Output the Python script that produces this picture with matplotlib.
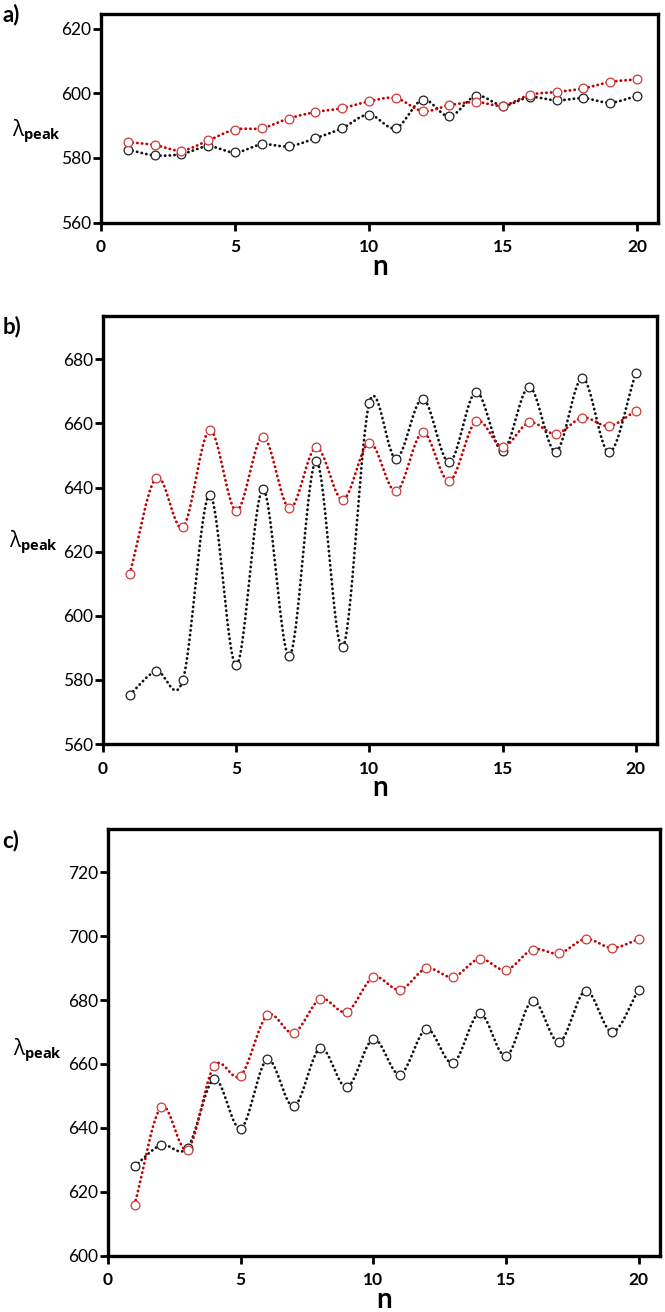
import numpy as np
import matplotlib
matplotlib.use("Agg")
import matplotlib.pyplot as plt

plt.rcParams['font.family'] = ['Lato', 'DejaVu Sans']
plt.rcParams['mathtext.fontset'] = 'custom'
plt.rcParams['mathtext.rm'] = 'Open Sans'
plt.rcParams['mathtext.it'] = 'Open Sans'
plt.rcParams['mathtext.bf'] = 'Open Sans:bold'

n = list(range(1, 21))

# panel a
a_black = [582.6, 580.8, 581.2, 583.6, 581.7, 584.2, 583.6, 586.1, 589.2, 593.4,
           589.2, 598.0, 592.9, 599.2, 596.2, 598.8, 597.8, 598.5, 597.1, 599.2]
a_red = [584.9, 584.0, 582.3, 585.4, 588.8, 589.2, 592.2, 594.2, 595.4, 597.5,
         598.5, 594.5, 596.3, 597.3, 596.2, 599.5, 600.4, 601.5, 603.5, 604.3]

# panel b
b_black = [575.4, 582.7, 580.1, 637.7, 584.6, 639.4, 587.5, 648.3, 590.2, 666.5,
           649.0, 667.7, 647.9, 669.8, 651.4, 671.4, 651.2, 674.2, 651.0, 675.6]
b_red = [613.1, 643.1, 627.6, 657.9, 632.8, 655.9, 633.5, 652.5, 636.2, 654.0,
         638.8, 657.2, 642.0, 660.7, 652.7, 660.3, 656.7, 661.8, 659.2, 663.9]

# panel c
c_black = [628.0, 634.6, 633.8, 655.3, 639.8, 661.4, 646.7, 664.9, 652.7, 667.8,
           656.7, 670.9, 660.3, 675.8, 662.4, 679.8, 666.8, 682.9, 670.0, 683.2]
c_red = [615.9, 646.5, 633.2, 659.4, 656.3, 675.2, 669.7, 680.3, 676.3, 687.1,
         683.2, 689.9, 687.2, 692.9, 689.4, 695.8, 694.6, 699.1, 696.3, 699.1]

panels = [
    ("a)", a_black, a_red, (560, 624.5), [560, 580, 600, 620]),
    ("b)", b_black, b_red, (560, 693.5), [560, 580, 600, 620, 640, 660, 680]),
    ("c)", c_black, c_red, (600, 733.5), [600, 620, 640, 660, 680, 700, 720]),
]

# axes boxes in figure fractions
boxes = [
    [0.152, 0.8303, 0.838, 0.159],
    [0.155, 0.4329, 0.833, 0.3262],
    [0.1624, 0.0429, 0.830, 0.3252],
]
label_pos = [(-0.115, 0.435), (-0.126, 0.472), (-0.127, 0.482)]
letter_y = [1 - 15 / 1312, 1 - 327 / 1312, 1 - 841 / 1312]


def smooth(x, y, per=30):
    # Catmull-Rom curve through the points (for drawing the line only)
    x = np.asarray(x, float)
    y = np.asarray(y, float)
    m = np.gradient(y, x)
    xs_all, ys_all = [], []
    for i in range(len(x) - 1):
        h = x[i + 1] - x[i]
        t = np.linspace(0, 1, per, endpoint=False)
        h00 = 2 * t**3 - 3 * t**2 + 1
        h10 = t**3 - 2 * t**2 + t
        h01 = -2 * t**3 + 3 * t**2
        h11 = t**3 - t**2
        xs_all.append(x[i] + t * h)
        ys_all.append(h00 * y[i] + h10 * h * m[i] + h01 * y[i + 1] + h11 * h * m[i + 1])
    xs_all.append([x[-1]])
    ys_all.append([y[-1]])
    return np.concatenate(xs_all), np.concatenate(ys_all)


fig = plt.figure(figsize=(6.65, 13.12), dpi=100)

for (letter, blk, red, ylim, yt), box, lp, ly in zip(panels, boxes, label_pos, letter_y):
    ax = fig.add_axes(box)
    for vals, lc, mc in [(blk, '#111111', '#222222'), (red, '#c00000', '#cc3a3a')]:
        xs, ys = smooth(n, vals)
        ax.plot(xs, ys, color=lc, lw=2.0, linestyle=(0, (0.1, 1.6)),
                dash_capstyle='round', zorder=2)
        ax.plot(n, vals, 'o', ms=6.3, mfc='white', mec=mc, mew=0.9, zorder=3)
    ax.set_xlim(0, 20.8)
    ax.set_ylim(*ylim)
    ax.set_xticks([0, 5, 10, 15, 20])
    ax.set_yticks(yt)
    for s in ax.spines.values():
        s.set_linewidth(2.4)
    ax.tick_params(axis='y', length=6, width=2, pad=1, labelsize=12.5)
    ax.tick_params(axis='x', length=6, width=2, pad=6, labelsize=12.5)
    for t in ax.get_xticklabels():
        t.set_fontweight('bold')
    ax.set_xlabel('n', fontsize=20, fontweight='bold', labelpad=-1)
    ax.text(lp[0], lp[1], r'$\lambda_{\mathbf{peak}}$', transform=ax.transAxes,
            fontsize=15, ha='center', va='center')
    fig.text(0.004, ly, letter, fontsize=16, fontweight='bold', ha='left', va='center')

fig.savefig('out.png', dpi=100)
